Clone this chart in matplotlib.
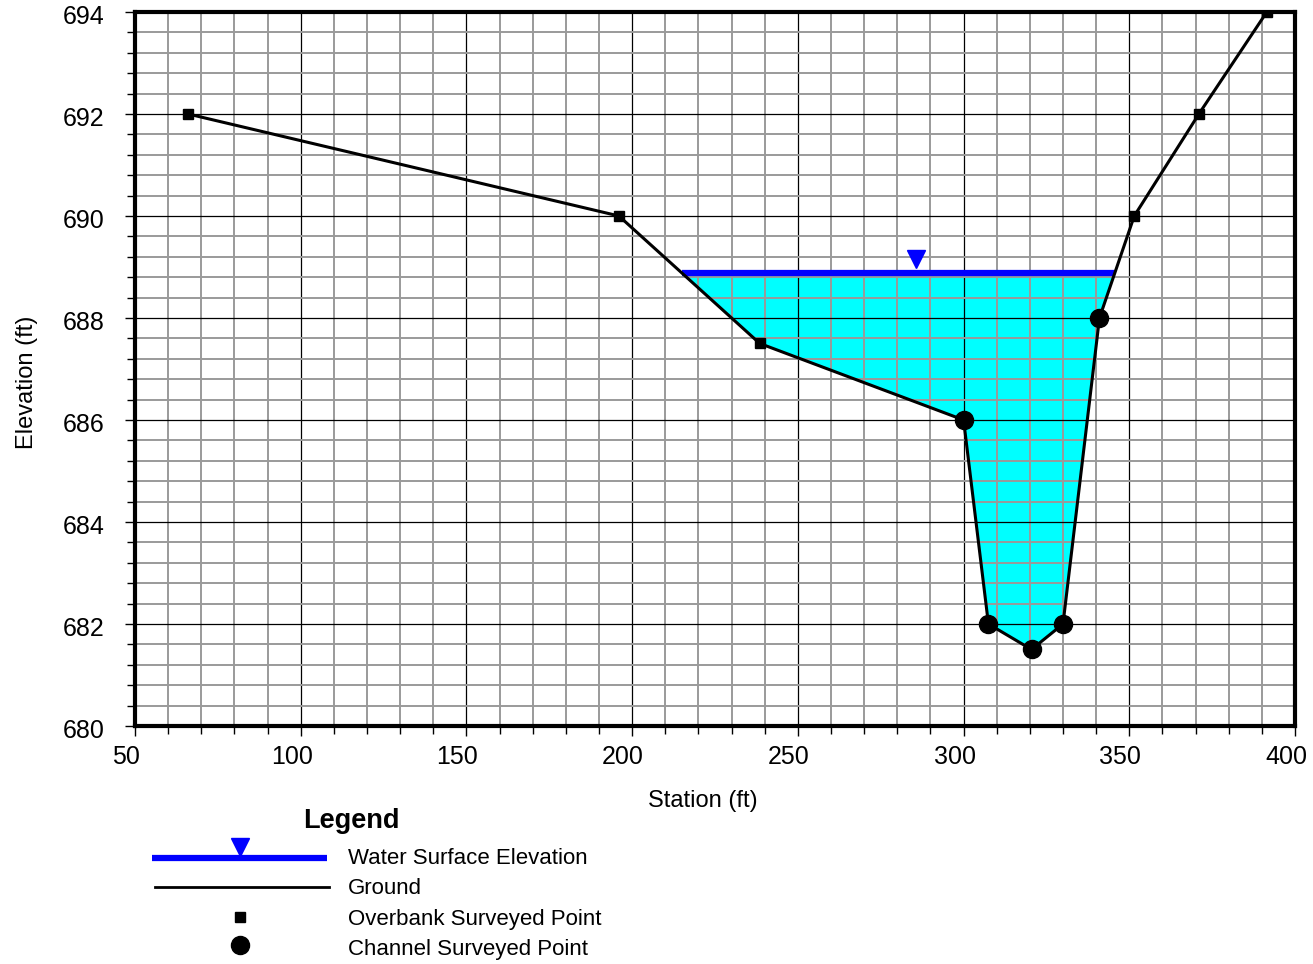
import numpy as np
import matplotlib.pyplot as plt
import matplotlib.transforms as mtransforms
from matplotlib.lines import Line2D
from matplotlib.ticker import MultipleLocator

plt.rcParams['font.family'] = ['Liberation Sans', 'DejaVu Sans']

# cross section data
station = [66, 196, 238.5, 300, 307.5, 320.5, 330, 341, 351.5, 371, 391.5]
elevation = [692, 690, 687.5, 686, 682, 681.5, 682, 688, 690, 692, 694]
point_type = ['o', 'o', 'o', 'c', 'c', 'c', 'c', 'c', 'o', 'o', 'o']  # o = overbank, c = channel
wse = 688.88
wse_marker_station = 285.5

st = np.array(station, dtype=float)
el = np.array(elevation, dtype=float)

fig = plt.figure(figsize=(13.13, 9.64), dpi=100)
ax = fig.add_axes([0.1028, 0.2469, 0.8835, 0.7407])

# water fill below WSE
fine_x = np.linspace(st.min(), st.max(), 4000)
fine_y = np.interp(fine_x, st, el)
ax.fill_between(fine_x, fine_y, wse, where=fine_y < wse, interpolate=True,
                color='#00FFFF', lw=0, zorder=1)

# WSE line spans the wetted width
wet = fine_x[fine_y <= wse]
ax.plot([wet.min(), wet.max()], [wse, wse], color='#0000FF', lw=4.5,
        solid_capstyle='butt', zorder=3)
ax.plot([wse_marker_station], [wse + 0.28], marker='v', color='#0000FF',
        markersize=13, ls='none', zorder=4)

# ground
ax.plot(st, el, color='black', lw=2.2, zorder=3)
ob = [i for i, t in enumerate(point_type) if t == 'o']
ch = [i for i, t in enumerate(point_type) if t == 'c']
ax.plot(st[ob], el[ob], 's', color='black', markersize=7, zorder=4)
ax.plot(st[ch], el[ch], 'o', color='black', markersize=13, zorder=4)

ax.set_xlim(50, 400)
ax.set_ylim(680, 694)
ax.xaxis.set_major_locator(MultipleLocator(50))
ax.xaxis.set_minor_locator(MultipleLocator(10))
ax.yaxis.set_major_locator(MultipleLocator(2))
ax.yaxis.set_minor_locator(MultipleLocator(0.4))

ax.set_axisbelow(False)
ax.grid(which='minor', color='#9a9a9a', lw=1.4, zorder=2)
ax.grid(which='major', color='black', lw=0.9, zorder=2)
for gl in ax.get_xgridlines() + ax.get_ygridlines():
    gl.set_zorder(2)

for s in ax.spines.values():
    s.set_linewidth(3)
    s.set_zorder(5)

ax.tick_params(which='major', direction='out', length=7, width=1, labelsize=18)
ax.tick_params(which='minor', direction='out', length=6, width=1)
ax.tick_params(axis='y', which='major', pad=15)
ax.tick_params(axis='x', which='major', pad=7)

# labels in the reference sit a little left / low of their ticks
xshift = mtransforms.ScaledTranslation(-9 / 100, 0, fig.dpi_scale_trans)
yshift = mtransforms.ScaledTranslation(0, -3 / 100, fig.dpi_scale_trans)
for lab in ax.get_xticklabels():
    lab.set_transform(lab.get_transform() + xshift)
for lab in ax.get_yticklabels():
    lab.set_transform(lab.get_transform() + yshift)

ax.set_xlabel('Station (ft)', fontsize=17, va='center')
ax.xaxis.set_label_coords((703 - 135) / 1160, -(801 - 726) / 714)
ax.set_ylabel('Elevation (ft)', fontsize=17, va='center')
ax.yaxis.set_label_coords((27 - 135) / 1160, 1 - (382 - 12) / 714)

# legend drawn below the plot
W, H = 1313.0, 964.0
def fx(p):
    return p / W
def fy(p):
    return 1 - p / H

fig.text(fx(351), fy(821), 'Legend', fontsize=19.5, fontweight='bold', ha='center', va='center')
fig.add_artist(Line2D([fx(152), fx(327)], [fy(858), fy(858)], color='#0000FF', lw=4.5,
                      solid_capstyle='butt', transform=fig.transFigure))
fig.add_artist(Line2D([fx(240)], [fy(847)], marker='v', color='#0000FF', markersize=13,
                      ls='none', transform=fig.transFigure))
fig.add_artist(Line2D([fx(155), fx(329)], [fy(887), fy(887)], color='black', lw=2,
                      transform=fig.transFigure))
fig.add_artist(Line2D([fx(240)], [fy(917)], marker='s', color='black', markersize=7,
                      ls='none', transform=fig.transFigure))
fig.add_artist(Line2D([fx(240)], [fy(945)], marker='o', color='black', markersize=13,
                      ls='none', transform=fig.transFigure))

legend_labels = ['Water Surface Elevation', 'Ground', 'Overbank Surveyed Point', 'Channel Surveyed Point']
legend_y = [858, 888, 920, 949]
for lab, yy in zip(legend_labels, legend_y):
    fig.text(fx(348), fy(yy), lab, fontsize=16, ha='left', va='center')

fig.savefig('out.png', dpi=100)
